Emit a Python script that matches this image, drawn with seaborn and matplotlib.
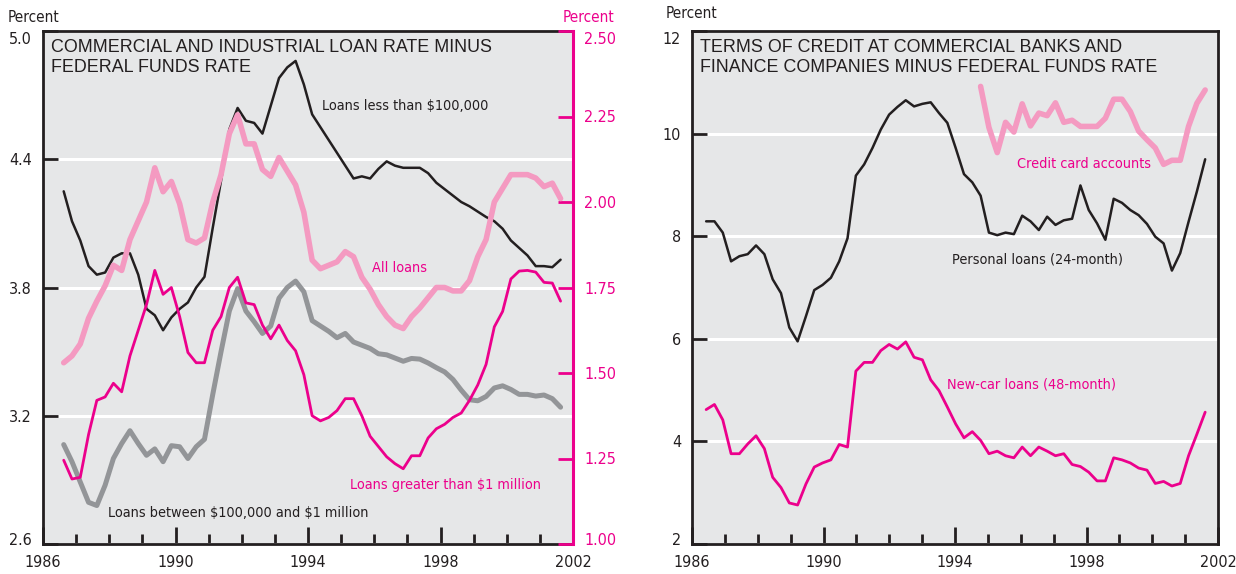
import numpy as np
import pandas as pd
import seaborn as sns
import matplotlib.pyplot as plt
from matplotlib import font_manager
from matplotlib.transforms import ScaledTranslation
from matplotlib.ticker import MultipleLocator, FormatStrFormatter

# ---- data: C&I loan rate minus fed funds (quarterly) ----
ci_years = [1986.625 + 0.25 * i for i in range(61)]

loans_small = [4.25, 4.11, 4.02, 3.90, 3.86, 3.87, 3.94, 3.96, 3.96, 3.86,
               3.70, 3.67, 3.60, 3.66, 3.70, 3.73, 3.80, 3.85, 4.08, 4.30,
               4.54, 4.64, 4.58, 4.57, 4.52, 4.65, 4.78, 4.83, 4.86, 4.75,
               4.61, 4.55, 4.49, 4.43, 4.37, 4.31, 4.32, 4.31, 4.355, 4.39,
               4.37, 4.36, 4.36, 4.36, 4.335, 4.29, 4.26, 4.23, 4.20, 4.18,
               4.155, 4.13, 4.11, 4.075, 4.02, 3.985, 3.95, 3.90, 3.90, 3.895,
               3.93]

loans_mid = [3.065, 2.985, 2.89, 2.795, 2.78, 2.875, 3.00, 3.07, 3.13, 3.07,
             3.015, 3.045, 2.985, 3.06, 3.055, 3.00, 3.055, 3.09, 3.30, 3.50,
             3.69, 3.795, 3.69, 3.64, 3.585, 3.62, 3.75, 3.80, 3.83, 3.78,
             3.645, 3.62, 3.595, 3.565, 3.585, 3.545, 3.53, 3.515, 3.49, 3.485,
             3.47, 3.455, 3.468, 3.465, 3.447, 3.425, 3.405, 3.37, 3.32, 3.275,
             3.27, 3.29, 3.33, 3.34, 3.323, 3.30, 3.30, 3.292, 3.297, 3.28,
             3.24]

all_loans = [1.53, 1.55, 1.585, 1.66, 1.71, 1.755, 1.815, 1.80, 1.89, 1.945,
             2.00, 2.10, 2.03, 2.06, 1.995, 1.89, 1.88, 1.895, 2.00, 2.08,
             2.20, 2.255, 2.17, 2.17, 2.095, 2.075, 2.13, 2.09, 2.05, 1.97,
             1.83, 1.805, 1.815, 1.825, 1.855, 1.84, 1.78, 1.745, 1.70, 1.665,
             1.64, 1.63, 1.665, 1.69, 1.72, 1.75, 1.75, 1.74, 1.74, 1.77,
             1.84, 1.89, 2.00, 2.04, 2.08, 2.08, 2.08, 2.07, 2.045, 2.055,
             2.01]

loans_large = [1.245, 1.19, 1.195, 1.32, 1.42, 1.43, 1.47, 1.445, 1.55, 1.625,
               1.70, 1.80, 1.73, 1.75, 1.665, 1.56, 1.53, 1.53, 1.625, 1.665,
               1.75, 1.78, 1.705, 1.70, 1.64, 1.60, 1.64, 1.595, 1.565, 1.495,
               1.375, 1.36, 1.37, 1.39, 1.425, 1.425, 1.375, 1.315, 1.285, 1.255,
               1.235, 1.22, 1.258, 1.258, 1.31, 1.337, 1.35, 1.37, 1.383, 1.42,
               1.465, 1.525, 1.635, 1.68, 1.775, 1.798, 1.80, 1.795, 1.765, 1.763,
               1.71]

# ---- data: terms of credit minus fed funds ----
tc_years = list(np.linspace(1986.43, 2001.61, 61))

personal = [8.29, 8.29, 8.07, 7.51, 7.61, 7.65, 7.82, 7.65, 7.16, 6.89,
            6.22, 5.95, 6.44, 6.95, 7.05, 7.19, 7.51, 7.96, 9.18, 9.40,
            9.72, 10.08, 10.37, 10.52, 10.65, 10.53, 10.58, 10.61, 10.40, 10.21,
            9.72, 9.21, 9.05, 8.79, 8.07, 8.02, 8.07, 8.04, 8.40, 8.29,
            8.12, 8.38, 8.22, 8.31, 8.34, 8.99, 8.51, 8.25, 7.93, 8.73,
            8.65, 8.51, 8.41, 8.24, 7.99, 7.86, 7.33, 7.67, 8.28, 8.87,
            9.50]

new_car = [4.62, 4.72, 4.42, 3.76, 3.76, 3.95, 4.11, 3.86, 3.30, 3.10,
           2.80, 2.76, 3.17, 3.50, 3.58, 3.64, 3.94, 3.89, 5.37, 5.54,
           5.54, 5.77, 5.89, 5.80, 5.94, 5.64, 5.59, 5.20, 4.99, 4.67,
           4.34, 4.07, 4.19, 4.02, 3.76, 3.81, 3.72, 3.68, 3.89, 3.72,
           3.89, 3.81, 3.72, 3.76, 3.55, 3.51, 3.40, 3.23, 3.23, 3.68,
           3.64, 3.58, 3.48, 3.44, 3.18, 3.22, 3.13, 3.18, 3.72, 4.14,
           4.57]

credit_card = [np.nan] * 33 + [
    10.92, 10.12, 9.63, 10.22, 10.03, 10.58, 10.15, 10.40, 10.35, 10.60,
    10.22, 10.26, 10.14, 10.14, 10.14, 10.30, 10.67, 10.67, 10.43, 10.05,
    9.88, 9.72, 9.40, 9.48, 9.48, 10.14, 10.59, 10.85]

year_ticks = [1986, 1990, 1994, 1998, 2002]

# ---- style ----
BG = "#e6e7e8"
INK = "#231f20"
MAGENTA = "#ec008c"
PINK = "#f49ac1"
GRAY = "#939598"

sns.set_style("white", {"axes.facecolor": BG})


# look for a condensed sans face, the original uses a condensed grotesque
def find_narrow():
    best = None
    for f in font_manager.fontManager.ttflist:
        low = f.name.lower()
        if "mono" in low or ("serif" in low and "sans" not in low):
            continue
        if f.style != "normal":
            continue
        cond = "narrow" in low or "condensed" in low or \
            str(f.stretch) in ("condensed", "semi-condensed", "extra-condensed")
        if not cond:
            continue
        w = f.weight if isinstance(f.weight, int) else 400
        score = abs(w - 400)
        if best is None or score < best[0]:
            best = (score, f.fname)
    return best[1] if best else None


narrow_file = find_narrow()
names = {f.name for f in font_manager.fontManager.ttflist}
SCALE = 1.0 if narrow_file else 0.9


def nfont(size):
    if narrow_file:
        return font_manager.FontProperties(fname=narrow_file, size=size)
    fam = "Roboto" if "Roboto" in names else "Liberation Sans"
    return font_manager.FontProperties(family=fam, size=size * SCALE)


TITLE_FONT = font_manager.FontProperties(
    family="Liberation Sans" if "Liberation Sans" in names else "DejaVu Sans", size=12.9)
LABEL_SIZE = 10.4
TICK_SIZE = 11.5

fig = plt.figure(figsize=(12.36, 5.74), dpi=100)
W, H = 1236, 574
ax1 = fig.add_axes([43 / W, 30 / H, 530 / W, 513 / H])
ax2 = fig.add_axes([692 / W, 30 / H, 526 / W, 513 / H])


def nudge_ends(labels):
    # outermost value labels sit a little inside the frame in the original
    labels[0].set_transform(labels[0].get_transform() + ScaledTranslation(0, 0.05, fig.dpi_scale_trans))
    labels[-1].set_transform(labels[-1].get_transform() + ScaledTranslation(0, -0.07, fig.dpi_scale_trans))


def style_axis(ax, yticks, ylim):
    ax.set_facecolor(BG)
    ax.set_xlim(1986, 2002)
    ax.set_ylim(*ylim)
    ax.set_yticks(yticks)
    ax.set_xticks(year_ticks)
    ax.xaxis.set_minor_locator(MultipleLocator(1))
    ax.yaxis.grid(True, color="white", linewidth=2.2)
    ax.xaxis.grid(False)
    ax.set_axisbelow(True)
    ax.tick_params(axis="y", direction="in", length=11, width=2, color=INK,
                   pad=8, labelcolor=INK, left=True)
    ax.tick_params(axis="x", which="major", direction="in", length=12, width=2,
                   color=INK, pad=8, labelcolor=INK, bottom=True)
    ax.tick_params(axis="x", which="minor", direction="in", length=7, width=2,
                   color=INK, bottom=True)
    for s in ax.spines.values():
        s.set_color(INK)
        s.set_linewidth(2)
    ax.set_xlabel("")
    ax.set_ylabel("")


def font_ticks(ax, axis="both"):
    labs = []
    if axis in ("both", "x"):
        labs += ax.get_xticklabels()
    if axis in ("both", "y"):
        labs += ax.get_yticklabels()
    for lab in labs:
        lab.set_fontproperties(nfont(TICK_SIZE))


# ---- left panel ----
sns.lineplot(x=ci_years, y=loans_mid, ax=ax1, color=GRAY, linewidth=3.6)
sns.lineplot(x=ci_years, y=loans_small, ax=ax1, color=INK, linewidth=1.8)
style_axis(ax1, [2.6, 3.2, 3.8, 4.4, 5.0], (2.6, 5.0))
ax1.yaxis.set_major_formatter(FormatStrFormatter("%.1f"))
font_ticks(ax1)
nudge_ends(ax1.get_yticklabels())

ax1r = ax1.twinx()
sns.lineplot(x=ci_years, y=all_loans, ax=ax1r, color=PINK, linewidth=4)
sns.lineplot(x=ci_years, y=loans_large, ax=ax1r, color=MAGENTA, linewidth=2)
ax1r.set_ylim(1.0, 2.5)
ax1r.set_yticks([1.0, 1.25, 1.5, 1.75, 2.0, 2.25, 2.5])
ax1r.yaxis.set_major_formatter(FormatStrFormatter("%.2f"))
ax1r.tick_params(axis="y", direction="in", length=11, width=2, color=MAGENTA,
                 pad=8, labelcolor=MAGENTA, right=True)
font_ticks(ax1r, "y")
nudge_ends(ax1r.get_yticklabels())
ax1r.set_ylabel("")
for name, s in ax1r.spines.items():
    s.set_visible(name == "right")
ax1r.spines["right"].set_color(MAGENTA)
ax1r.spines["right"].set_linewidth(2.2)
ax1.spines["right"].set_visible(False)

ax1.text(0.015, 0.9597, "COMMERCIAL AND INDUSTRIAL LOAN RATE MINUS",
         transform=ax1.transAxes, fontproperties=TITLE_FONT, color=INK, va="baseline")
ax1.text(0.015, 0.9207, "FEDERAL FUNDS RATE",
         transform=ax1.transAxes, fontproperties=TITLE_FONT, color=INK, va="baseline")
ax1.text(1994.43, 4.65, "Loans less than \\$100,000", fontproperties=nfont(LABEL_SIZE),
         color=INK, va="center")
ax1.text(1995.92, 3.89, "All loans", fontproperties=nfont(LABEL_SIZE), color=MAGENTA,
         va="center")
ax1.text(1995.27, 2.876, "Loans greater than \\$1 million", fontproperties=nfont(LABEL_SIZE),
         color=MAGENTA, va="center")
ax1.text(1987.95, 2.745, "Loans between \\$100,000 and \\$1 million",
         fontproperties=nfont(LABEL_SIZE), color=INK, va="center")

# ---- right panel ----
sns.lineplot(x=tc_years, y=credit_card, ax=ax2, color=PINK, linewidth=4)
sns.lineplot(x=tc_years, y=personal, ax=ax2, color=INK, linewidth=1.8)
sns.lineplot(x=tc_years, y=new_car, ax=ax2, color=MAGENTA, linewidth=2)
style_axis(ax2, [2, 4, 6, 8, 10, 12], (2, 12))
font_ticks(ax2)
nudge_ends(ax2.get_yticklabels())

ax2.text(0.015, 0.9597, "TERMS OF CREDIT AT COMMERCIAL BANKS AND",
         transform=ax2.transAxes, fontproperties=TITLE_FONT, color=INK, va="baseline")
ax2.text(0.015, 0.9207, "FINANCE COMPANIES MINUS FEDERAL FUNDS RATE",
         transform=ax2.transAxes, fontproperties=TITLE_FONT, color=INK, va="baseline")
ax2.text(1995.875, 9.41, "Credit card accounts", fontproperties=nfont(LABEL_SIZE),
         color=MAGENTA, va="center")
ax2.text(1993.9, 7.55, "Personal loans (24-month)", fontproperties=nfont(LABEL_SIZE),
         color=INK, va="center")
ax2.text(1993.75, 5.10, "New-car loans (48-month)", fontproperties=nfont(LABEL_SIZE),
         color=MAGENTA, va="center")

# axis unit labels
fig.text(8 / W, 1 - 17 / H, "Percent", fontproperties=nfont(11), color=INK,
         va="center")
fig.text(614 / W, 1 - 17 / H, "Percent", fontproperties=nfont(11), color=MAGENTA,
         va="center", ha="right")
fig.text(666 / W, 1 - 14 / H, "Percent", fontproperties=nfont(11), color=INK,
         va="center")

plt.savefig("out.png", dpi=100)
plt.close()
